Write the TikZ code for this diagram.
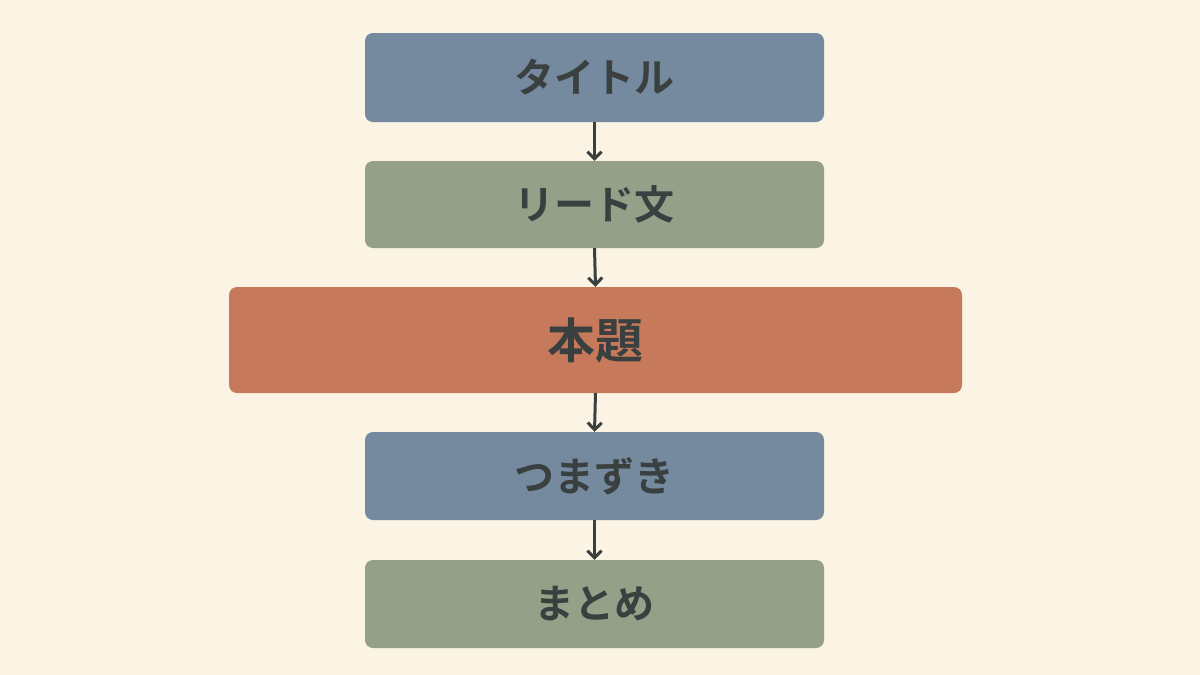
\documentclass[tikz,border=0pt]{standalone}
\usepackage{fontspec}
\newfontfamily\cjk{Noto Sans CJK JP Bold}
\usetikzlibrary{arrows.meta}
\definecolor{bg}{HTML}{FBF3E4}
\definecolor{cb}{HTML}{758A9E}
\definecolor{cg}{HTML}{94A088}
\definecolor{co}{HTML}{C6795B}
\definecolor{tx}{HTML}{3A3F3F}
\begin{document}
\begin{tikzpicture}[x=1pt,y=-1pt,
  box/.style={rounded corners=8pt,inner sep=0pt,text=tx,font=\cjk\fontsize{40}{48}\selectfont},
  arr/.style={draw=tx,line width=3pt,-{Straight Barb[length=7pt,width=14pt,line width=3pt]}}]
\fill[bg] (0,0) rectangle (1200,675);
\useasboundingbox (0,0) rectangle (1200,675);
\node[box,fill=cb,minimum width=459pt,minimum height=89pt] (a) at (594.5,77.5) {タイトル};
\node[box,fill=cg,minimum width=459pt,minimum height=87pt] (b) at (594.5,204.5) {リード文};
\node[box,fill=co,minimum width=733pt,minimum height=106pt,font=\cjk\fontsize{48}{56}\selectfont] (c) at (595.5,340) {本題};
\node[box,fill=cb,minimum width=459pt,minimum height=88pt] (d) at (594.5,476) {つまずき};
\node[box,fill=cg,minimum width=459pt,minimum height=88pt] (e) at (594.5,604) {まとめ};
\draw[arr] (a.south) -- (b.north);
\draw[arr] (b.south) -- (c.north);
\draw[arr] (c.south) -- (d.north);
\draw[arr] (d.south) -- (e.north);
\end{tikzpicture}
\end{document}
